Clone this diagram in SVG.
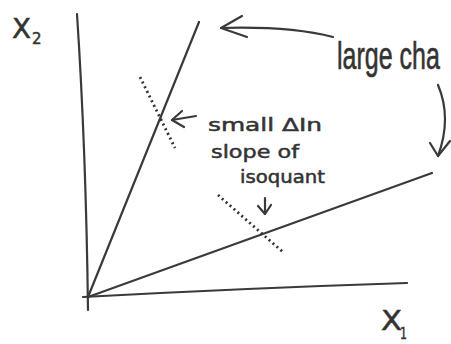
<svg xmlns="http://www.w3.org/2000/svg" width="451" height="344" viewBox="0 0 451 344">
<style>
.ln{fill:none;stroke:#3a3a3a;stroke-width:2.2;stroke-linecap:round;stroke-linejoin:round}
.dot{fill:none;stroke:#333;stroke-width:2.8;stroke-dasharray:2 3.2;stroke-linecap:butt}
.t{font-family:"DejaVu Sans","Liberation Sans",sans-serif;fill:#333;stroke:#333;stroke-width:0.5}
.big{font-family:"Liberation Sans",Arial,sans-serif;fill:#333;stroke:#333;stroke-width:0.4}
</style>
<rect width="451" height="344" fill="#fff"/>
<g id="axes">
<path class="ln" d="M77,14 Q86,150 88,310"/>
<path class="ln" d="M83,297 Q250,288 407,283"/>
</g>
<g id="rays">
<path class="ln" d="M88,297 L199,22"/>
<path class="ln" d="M88,297 L432,173"/>
</g>
<g id="isoquants">
<path class="dot" d="M140,77 L175,148"/>
<path class="dot" d="M218,195 L284,253"/>
</g>
<g id="connectors">
<path class="ln" d="M333,37 Q290,26 221,28"/>
<path class="ln" d="M242,16 L221,28 L247,37"/>
<path class="ln" d="M438,85 Q452,118 438,156"/>
<path class="ln" d="M430,143 L438,156 L450,141"/>
<path class="ln" d="M196,116 L172,120"/>
<path class="ln" d="M182,111 L172,120 L184,127"/>
<path class="ln" d="M265,198 L265,214"/>
<path class="ln" d="M258,206 L265,214 L271,205"/>
</g>
<g id="labels">
<text class="t" x="12" y="38" font-size="27" textLength="19" lengthAdjust="spacingAndGlyphs">X</text>
<text class="t" x="32" y="44" font-size="15">2</text>
<text class="t" x="381" y="330" font-size="27" textLength="21" lengthAdjust="spacingAndGlyphs">X</text>
<text class="t" x="400" y="339" font-size="15" textLength="7" lengthAdjust="spacingAndGlyphs">1</text>
<text class="big" transform="translate(337,69) scale(1,1.55)" font-size="25">large cha</text>
<text class="t" x="208" y="131" font-size="18" textLength="114" lengthAdjust="spacingAndGlyphs">small ΔIn</text>
<text class="t" x="211" y="158" font-size="18" textLength="88" lengthAdjust="spacingAndGlyphs">slope of</text>
<text class="t" x="240" y="183" font-size="17" textLength="85" lengthAdjust="spacingAndGlyphs">isoquant</text>
</g>
</svg>
